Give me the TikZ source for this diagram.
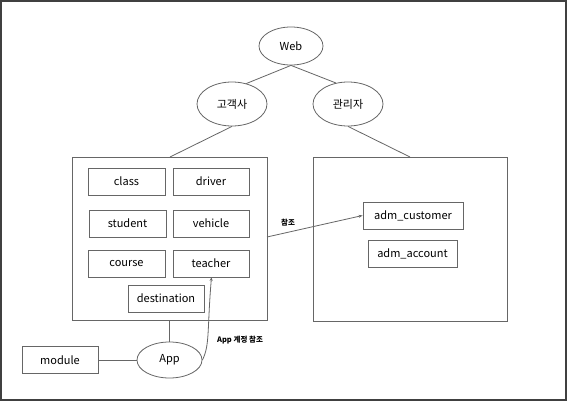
\documentclass[tikz,border=0pt]{standalone}
\usepackage{fontspec}
\setmainfont{Noto Sans CJK KR}
\usetikzlibrary{shapes.geometric,arrows.meta}
\begin{document}
\begin{tikzpicture}[x=1pt,y=-1pt,
  ln/.style={draw=black!60,line width=0.8pt},
  ent/.style={ln,rectangle,minimum width=76pt,minimum height=27pt,inner sep=0pt,font=\fontsize{11}{13}\selectfont},
  ell/.style={ln,ellipse,inner sep=0pt,font=\fontsize{11}{13}\selectfont},
  grp/.style={ln,rectangle,inner sep=0pt},
  small/.style={font=\fontsize{7.5}{9}\selectfont\bfseries,inner sep=0pt}]
\useasboundingbox (0,0) rectangle (567,401);
\fill[white] (0,0) rectangle (567,401);
\draw[draw=black!75,line width=2pt] (1,1) rectangle (566,400);
% tree
\node[ell,minimum width=64pt,minimum height=38pt] (web) at (291,46) {Web};
\node[ell,minimum width=70pt,minimum height=44pt] (cust) at (232,104) {고객사};
\node[ell,minimum width=70pt,minimum height=44pt] (admin) at (348,104) {관리자};
% group boxes
\node[grp,minimum width=195pt,minimum height=163pt] (left) at (169.5,238.5) {};
\node[grp,minimum width=194pt,minimum height=164pt] (right) at (410,239) {};
\coordinate (lefttop) at (170,157);
\coordinate (righttop) at (410,157);
\draw[ln] (web.south) -- (cust.55);
\draw[ln] (web.south) -- (admin.120);
\draw[ln] (cust.south) -- (lefttop);
\draw[ln] (admin.south) -- (righttop);
% entities
\node[ent,minimum width=77pt] (class) at (126.5,181.5) {class};
\node[ent] (driver) at (211,181.5) {driver};
\node[ent,minimum width=77pt] (student) at (127.5,223.5) {student};
\node[ent] (vehicle) at (211,223.5) {vehicle};
\node[ent,minimum width=77pt] (course) at (126.5,263.5) {course};
\node[ent] (teacher) at (211,263.5) {teacher};
\node[ent] (dest) at (166,298.5) {destination};
\node[ent,minimum width=100pt] (admcust) at (413,215.5) {adm\_customer};
\node[ent,minimum width=89pt] (admacc) at (412.5,253.5) {adm\_account};
% bottom
\node[ell,minimum width=65pt,minimum height=36pt] (app) at (169.5,360) {App};
\node[ent] (module) at (60,360) {module};
\coordinate (leftbot) at (169.5,320);
\draw[ln] (leftbot) -- (app.north);
\draw[ln] (module.east) -- (app.west);
% arrows
\coordinate (refstart) at (267,237);
\draw[ln,-{Stealth[length=4pt,width=3pt]}] (refstart) -- (admcust.west);
\node[small] (ref) at (288,223) {참조};
\coordinate (teacherin) at (211.5,277);
\draw[ln,-{Stealth[length=4pt,width=3pt]}] (app.east) .. controls (210,345) and (207,330) .. (teacherin);
\node[small] (appref) at (240,340) {App 계정 참조};
\end{tikzpicture}
\end{document}
